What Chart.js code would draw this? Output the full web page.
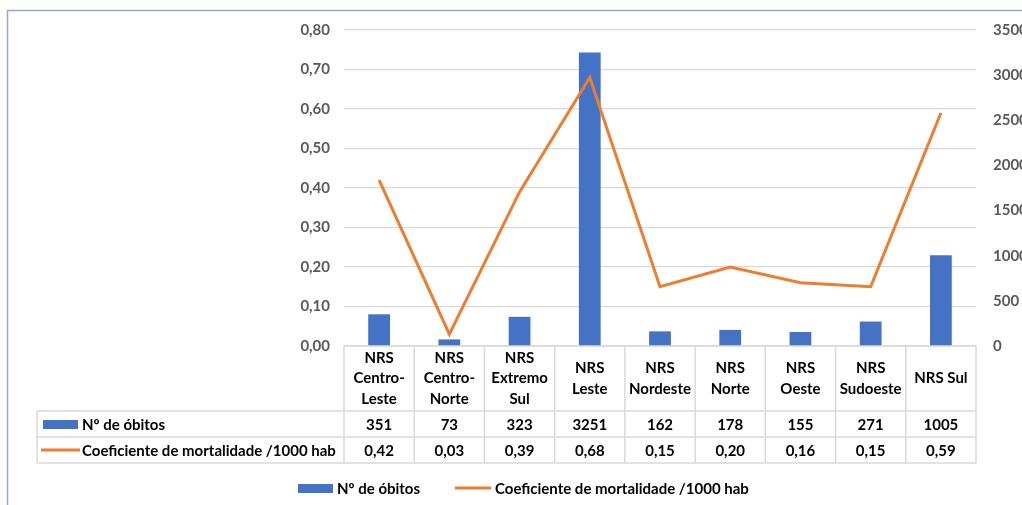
<!DOCTYPE html>
<html>
<head>
<meta charset="utf-8">
<script src="https://cdn.jsdelivr.net/npm/chart.js@4"></script>
<style>
  html, body { margin: 0; padding: 0; background: #ffffff; }
  #wrap { position: relative; width: 1022px; height: 505px; }
</style>
</head>
<body>
<div id="wrap"><canvas id="c" width="1022" height="505"></canvas></div>
<script>
// Regional health units (header rows of the data table)
const categories = [
  ['NRS', 'Centro-', 'Leste'],
  ['NRS', 'Centro-', 'Norte'],
  ['NRS', 'Extremo', 'Sul'],
  ['NRS', 'Leste'],
  ['NRS', 'Nordeste'],
  ['NRS', 'Norte'],
  ['NRS', 'Oeste'],
  ['NRS', 'Sudoeste'],
  ['NRS Sul']
];
// Number of deaths per unit (bars, right axis)
const deaths = [351, 73, 323, 3251, 162, 178, 155, 271, 1005];
// Mortality rate per 1000 inhabitants (line, left axis)
const rates = [0.42, 0.03, 0.39, 0.68, 0.15, 0.20, 0.16, 0.15, 0.59];

const deathsLabel = 'Nº de óbitos';
const ratesLabel = 'Coeficiente de mortalidade /1000 hab';

const BLUE = '#4472C4';
const ORANGE = '#ED7D31';
const GRID = '#d9d9d9';
const AXIS_TEXT = '#595959';
const FONT_FAMILY = 'Lato, "Open Sans", sans-serif';

const fmtRate = v => v.toFixed(2).replace('.', ',');

// Data table under the plot, legend keys and outer frame
const tablePlugin = {
  id: 'dataTable',
  beforeDraw(chart) {
    const ctx = chart.ctx;
    ctx.save();
    ctx.strokeStyle = '#8FAADC';
    ctx.lineWidth = 1.5;
    ctx.beginPath();
    ctx.moveTo(7.5, 505);
    ctx.lineTo(7.5, 10.5);
    ctx.lineTo(1022, 10.5);
    ctx.stroke();
    ctx.restore();
  },
  afterDraw(chart) {
    const ctx = chart.ctx;
    const x = chart.scales.x;
    const area = chart.chartArea;
    const n = categories.length;
    const cw = (area.right - area.left) / n;
    const top = area.bottom;
    const hdrBottom = top + 65;
    const row1Bottom = hdrBottom + 26;
    const row2Bottom = row1Bottom + 26;
    const tableLeft = 37;

    ctx.save();
    ctx.strokeStyle = GRID;
    ctx.lineWidth = 1.5;
    ctx.beginPath();
    // horizontal rules
    ctx.moveTo(area.left, top); ctx.lineTo(area.right, top);
    [hdrBottom, row1Bottom, row2Bottom].forEach(y => {
      ctx.moveTo(tableLeft, y); ctx.lineTo(area.right, y);
    });
    // vertical rules
    ctx.moveTo(tableLeft, hdrBottom); ctx.lineTo(tableLeft, row2Bottom);
    for (let i = 0; i <= n; i++) {
      const xe = area.left + i * cw;
      ctx.moveTo(xe, top); ctx.lineTo(xe, row2Bottom);
    }
    ctx.stroke();

    // header labels
    ctx.fillStyle = '#000000';
    ctx.textAlign = 'center';
    ctx.textBaseline = 'middle';
    ctx.font = 'bold 15px ' + FONT_FAMILY;
    const lh = 20.5;
    const hdrMid = (top + hdrBottom) / 2;
    categories.forEach((lines, i) => {
      const cx = x.getPixelForValue(i);
      const y0 = hdrMid - (lines.length - 1) * lh / 2;
      lines.forEach((t, k) => ctx.fillText(t, cx, y0 + k * lh));
    });

    // value rows
    const r1 = (hdrBottom + row1Bottom) / 2 + 1;
    const r2 = (row1Bottom + row2Bottom) / 2 + 1;
    deaths.forEach((v, i) => ctx.fillText(String(v), x.getPixelForValue(i), r1));
    rates.forEach((v, i) => ctx.fillText(fmtRate(v), x.getPixelForValue(i), r2));

    // row legend keys
    ctx.textAlign = 'left';
    ctx.fillStyle = BLUE;
    ctx.fillRect(43, r1 - 5, 35, 9);
    ctx.strokeStyle = ORANGE;
    ctx.lineWidth = 3;
    ctx.beginPath();
    ctx.moveTo(41, r2 - 1); ctx.lineTo(80, r2 - 1);
    ctx.stroke();
    ctx.fillStyle = '#000000';
    ctx.fillText(deathsLabel, 82, r1);
    ctx.fillText(ratesLabel, 82, r2);

    // bottom legend
    const ly = 489;
    ctx.fillStyle = BLUE;
    ctx.fillRect(298, ly - 5, 35, 9);
    ctx.strokeStyle = ORANGE;
    ctx.beginPath();
    ctx.moveTo(455, ly - 1); ctx.lineTo(491, ly - 1);
    ctx.stroke();
    ctx.fillStyle = '#000000';
    ctx.fillText(deathsLabel, 337, ly);
    ctx.fillText(ratesLabel, 495, ly);
    ctx.restore();
  }
};

new Chart(document.getElementById('c'), {
  data: {
    labels: categories.map(l => l.join(' ')),
    datasets: [
      {
        type: 'line',
        label: ratesLabel,
        data: rates,
        yAxisID: 'y',
        borderColor: ORANGE,
        borderWidth: 3,
        pointRadius: 0,
        tension: 0,
        order: 0
      },
      {
        type: 'bar',
        label: deathsLabel,
        data: deaths,
        yAxisID: 'y1',
        backgroundColor: BLUE,
        categoryPercentage: 1,
        barPercentage: 0.31,
        order: 1
      }
    ]
  },
  options: {
    responsive: false,
    animation: false,
    layout: { padding: { top: 30, bottom: 159, left: 0, right: 0 } },
    plugins: {
      legend: { display: false },
      tooltip: { enabled: false }
    },
    scales: {
      x: { type: 'category', display: false, offset: true },
      y: {
        position: 'left',
        min: 0, max: 0.8,
        ticks: {
          stepSize: 0.1,
          callback: v => fmtRate(v),
          color: AXIS_TEXT,
          font: { family: FONT_FAMILY, weight: 'bold', size: 15 },
          padding: 14
        },
        grid: { color: GRID, drawTicks: false, lineWidth: 1.2 },
        border: { display: false },
        afterFit: s => { s.width = 344; }
      },
      y1: {
        position: 'right',
        min: 0, max: 3500,
        ticks: {
          stepSize: 500,
          callback: v => String(v),
          color: AXIS_TEXT,
          font: { family: FONT_FAMILY, weight: 'bold', size: 15 },
          padding: 17
        },
        grid: { display: false, drawTicks: false },
        border: { display: false },
        afterFit: s => { s.width = 46; }
      }
    }
  },
  plugins: [tablePlugin]
});
</script>
</body>
</html>
